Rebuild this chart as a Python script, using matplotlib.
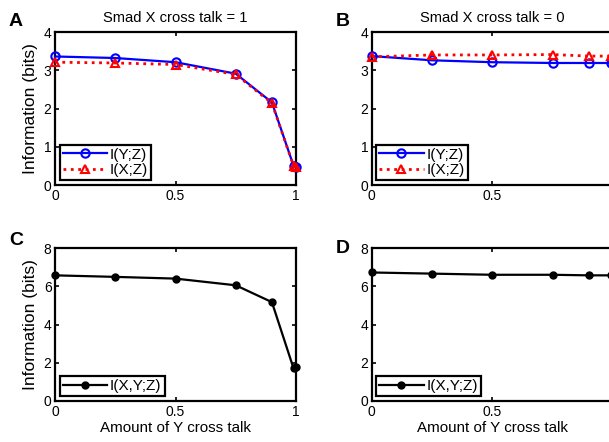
import matplotlib
matplotlib.use("Agg")
import matplotlib.pyplot as plt

plt.rcParams['font.family'] = ['Liberation Sans', 'DejaVu Sans']

# amount of Y cross talk
cross_talk = [0, 0.25, 0.5, 0.75, 0.9, 0.99, 1.0]

# Smad X cross talk = 1
iyz_a = [3.36, 3.32, 3.21, 2.91, 2.16, 0.50, 0.47]
ixz_a = [3.21, 3.19, 3.15, 2.89, 2.14, 0.50, 0.46]
ixyz_c = [6.57, 6.49, 6.40, 6.05, 5.17, 1.70, 1.78]

# Smad X cross talk = 0
iyz_b = [3.37, 3.26, 3.21, 3.19, 3.19, 3.19, 3.19]
ixz_b = [3.35, 3.40, 3.40, 3.41, 3.37, 3.37, 3.37]
ixyz_d = [6.72, 6.66, 6.60, 6.60, 6.57, 6.57, 6.57]

fig = plt.figure(figsize=(6.09, 4.42), dpi=100)
W, H = 609, 442


def add_axes(left, top, right, bottom):
    return fig.add_axes([left / W, 1 - bottom / H, (right - left) / W, (bottom - top) / H])


ax_a = add_axes(55, 32, 296, 185)
ax_b = add_axes(371.7, 32, 613, 185)
ax_c = add_axes(55, 248, 296, 401)
ax_d = add_axes(371.7, 248, 613, 401)


def style(ax, ymax, yticks):
    ax.set_xlim(0, 1)
    ax.set_ylim(0, ymax)
    ax.set_xticks([0, 0.5, 1])
    ax.set_xticklabels(['0', '0.5', '1'])
    ax.set_yticks(yticks)
    ax.tick_params(direction='in', top=True, right=True, length=3, width=1.2,
                   labelsize=10)
    ax.tick_params(axis='x', pad=3)
    ax.tick_params(axis='y', pad=2.5)
    for s in ax.spines.values():
        s.set_linewidth(1.6)


def legend(ax, **kw):
    leg = ax.legend(loc='lower left', fontsize=11, fancybox=False, framealpha=1,
                    borderpad=0.2, handlelength=2.9, handletextpad=0.2,
                    borderaxespad=0.3, **kw)
    leg.get_frame().set_edgecolor('black')
    leg.get_frame().set_linewidth(1.6)
    return leg


for ax, yiz, xz, title in [(ax_a, iyz_a, ixz_a, 'Smad X cross talk = 1'),
                           (ax_b, iyz_b, ixz_b, 'Smad X cross talk = 0')]:
    ax.plot(cross_talk, yiz, '-o', color='#0000ff', lw=1.6, ms=6, mfc='none',
            mew=1.5, label='I(Y;Z)', clip_on=False, zorder=3)
    ax.plot(cross_talk, xz, ':^', color='#ff0000', lw=2.0, ms=6, mfc='none',
            mew=1.5, label='I(X;Z)', clip_on=False, zorder=4)
    style(ax, 4, [0, 1, 2, 3, 4])
    ax.set_title(title, fontsize=10.6, pad=7)
    legend(ax, labelspacing=0.1)

for ax, vals in [(ax_c, ixyz_c), (ax_d, ixyz_d)]:
    ax.plot(cross_talk, vals, '-o', color='black', lw=1.6, ms=5, clip_on=False,
            label='I(X,Y;Z)', zorder=3)
    style(ax, 8, [0, 2, 4, 6, 8])
    ax.set_xlabel('Amount of Y cross talk', fontsize=10.9, labelpad=1)
    legend(ax)

ax_a.set_ylabel('Information (bits)', fontsize=12.5, labelpad=4)
ax_c.set_ylabel('Information (bits)', fontsize=12.5, labelpad=4)

for x, y, letter in [(9, 26, 'A'), (336, 26, 'B'), (9, 245, 'C'), (336, 253, 'D')]:
    fig.text(x / W, 1 - y / H, letter, fontsize=14, fontweight='bold',
             va='baseline', ha='left')

fig.savefig('out.png', dpi=100)
